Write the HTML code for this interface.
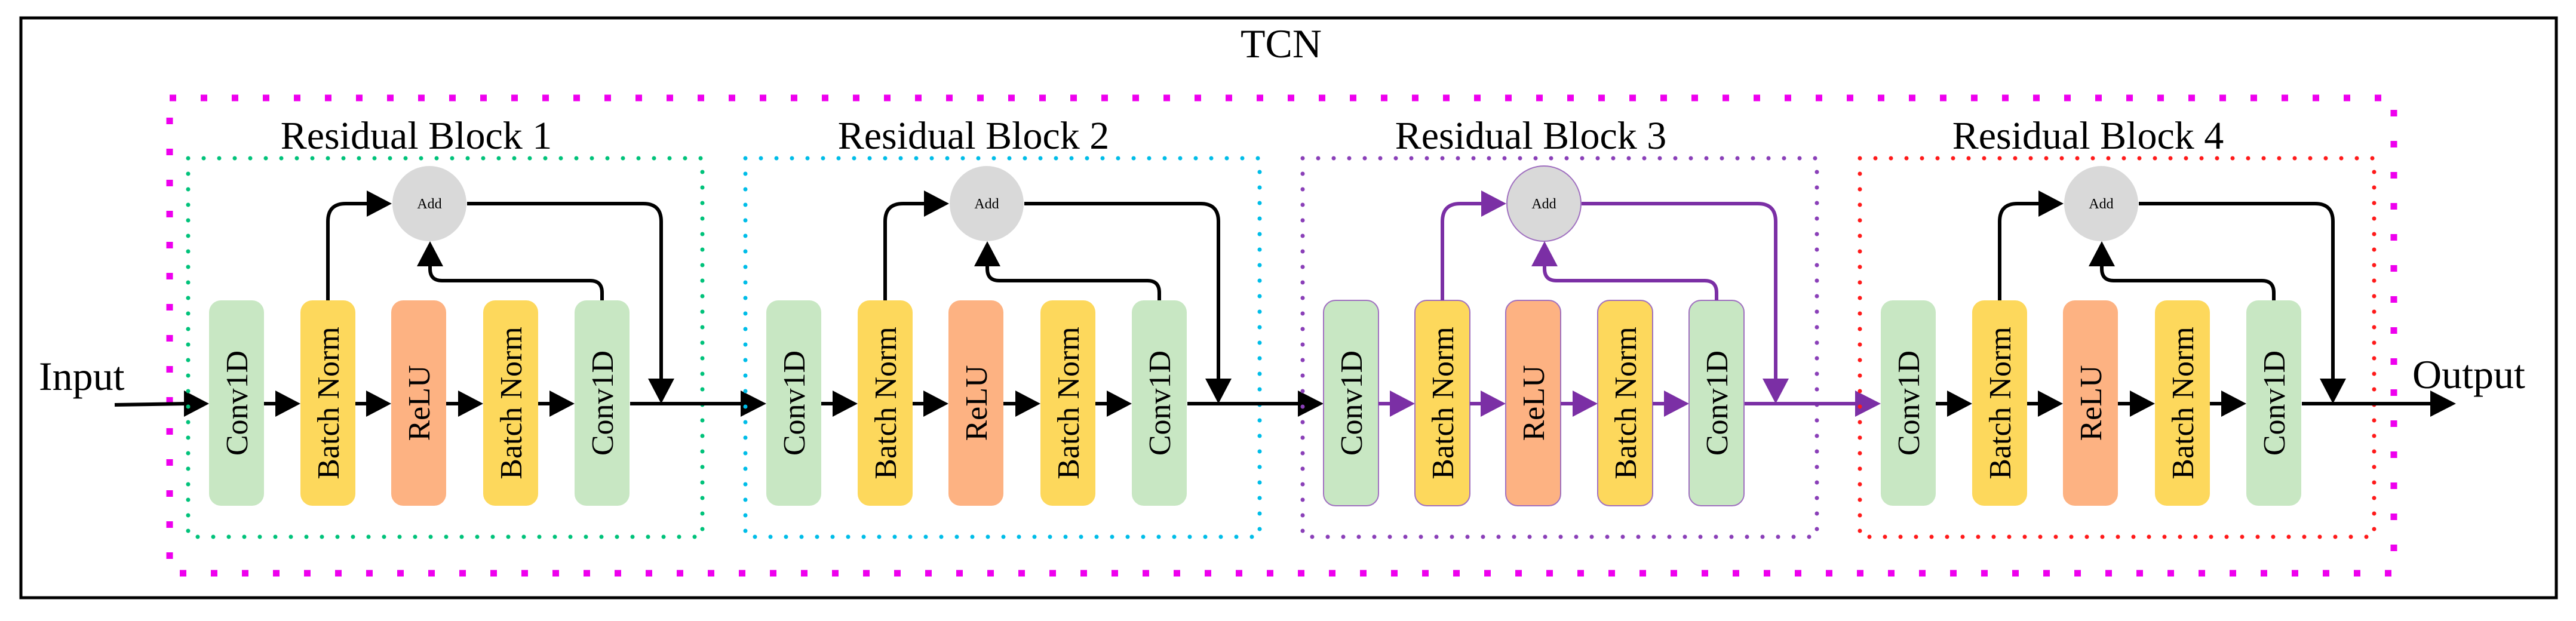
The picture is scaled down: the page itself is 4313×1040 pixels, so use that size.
<!DOCTYPE html>
<html><head><meta charset="utf-8"><style>
html,body{margin:0;padding:0;background:#fff}
svg{display:block}
text{font-family:"Liberation Serif",serif}
</style></head><body>
<svg width="4313" height="1040" viewBox="0 0 4313 1040" xmlns="http://www.w3.org/2000/svg">
<rect x="35" y="30" width="4245" height="971" fill="none" stroke="#000" stroke-width="5"/>
<text x="2145" y="96" font-size="68" text-anchor="middle">TCN</text>
<rect x="284" y="164" width="3724" height="796" fill="none" stroke="#ee00ee" stroke-width="11" stroke-dasharray="11 41"/>
<text x="65" y="653" font-size="68">Input</text>
<text x="4039" y="650" font-size="68">Output</text>
<line x1="192" y1="678" x2="312" y2="676" stroke="#000" stroke-width="6"/>
<polygon points="308,654 350,676 308,698" fill="#000"/>
<g id="blocks"></g>
</svg>
<script>
const g=document.getElementById('blocks');
const cols=['#00c27a','#00bde8','#8a3fb8','#ff1a1a'];
let s='';
for(let b=0;b<4;b++){
 const o=933*b, e=b==2?'#7b2fa5':'#000', st=b==2?' stroke="#a070c0" stroke-width="2"':'';
 const X=v=>v+o;
 s+=`<rect x="${X(315)}" y="265" width="861" height="634" fill="none" stroke="${cols[b]}" stroke-width="7" stroke-linecap="round" stroke-dasharray="0 26"/>`;
 s+=`<text x="${X(697)}" y="249" font-size="66" text-anchor="middle">Residual Block ${b+1}</text>`;
 const xs=[350,503,655,809,962], fills=['#c8e7c3','#fdd85c','#fdb282','#fdd85c','#c8e7c3'], lab=['Conv1D','Batch Norm','ReLU','Batch Norm','Conv1D'];
 for(let i=0;i<5;i++){
  const x=X(xs[i]);
  s+=`<rect x="${x}" y="503" width="92" height="344" rx="20" fill="${fills[i]}"${st}/>`;
  s+=`<text transform="translate(${x+46+18},675) rotate(-90)" font-size="52" text-anchor="middle">${lab[i]}</text>`;
  if(i<4){const nx=X(xs[i+1]);
   s+=`<line x1="${x+92}" y1="676" x2="${nx-30}" y2="676" stroke="${e}" stroke-width="6"/>`;
   s+=`<polygon points="${nx-42},654 ${nx},676 ${nx-42},698" fill="${e}"/>`;}
 }
 s+=`<ellipse cx="${X(719)}" cy="341" rx="62" ry="63" fill="#d9d9d9"${b==2?' stroke="#a070c0" stroke-width="2"':''}/>`;
 s+=`<text x="${X(719)}" y="349" font-size="24" text-anchor="middle">Add</text>`;
 s+=`<path d="M${X(549)},503 V371 Q${X(549)},341 ${X(579)},341 H${X(625)}" fill="none" stroke="${e}" stroke-width="6"/>`;
 s+=`<polygon points="${X(614)},319 ${X(656)},341 ${X(614)},363" fill="${e}"/>`;
 s+=`<path d="M${X(1008)},503 V490 Q${X(1008)},470 ${X(988)},470 H${X(740)} Q${X(720)},470 ${X(720)},450 V430" fill="none" stroke="${e}" stroke-width="6"/>`;
 s+=`<polygon points="${X(698)},446 ${X(720)},404 ${X(742)},446" fill="${e}"/>`;
 s+=`<path d="M${X(782)},341 H${X(1077)} Q${X(1107)},341 ${X(1107)},371 V650" fill="none" stroke="${e}" stroke-width="6"/>`;
 s+=`<polygon points="${X(1085)},634 ${X(1107)},676 ${X(1129)},634" fill="${e}"/>`;
 const end=b<3?X(1283):4112;
 s+=`<line x1="${X(1055)}" y1="676" x2="${end-30}" y2="676" stroke="${e}" stroke-width="6"/>`;
 s+=`<polygon points="${end-43},654 ${end},676 ${end-43},698" fill="${e}"/>`;
}
g.innerHTML=s;
</script>
</body></html>
